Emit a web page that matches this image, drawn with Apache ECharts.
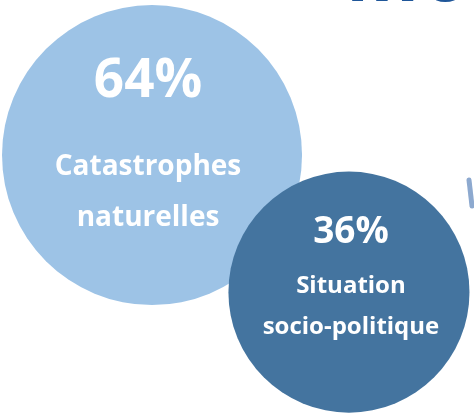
<!DOCTYPE html>
<html><head><meta charset="utf-8">
<script src="https://cdn.jsdelivr.net/npm/echarts@6/dist/echarts.min.js"></script>
<style>html,body{margin:0;padding:0;background:#fff}#c{width:474px;height:413px}</style>
</head><body><div id="c"></div>
<script>
var categories = ['Catastrophes naturelles', 'Situation socio-politique'];
var labelLines = [['Catastrophes', 'naturelles'], ['Situation', 'socio-politique']];
var values = [64, 36];
var colors = ['#9DC3E6', '#44749F'];

var chart = echarts.init(document.getElementById('c'), null, {renderer: 'canvas'});
var data = values.map(function (v, i) {
  return {
    name: categories[i],
    value: [i, v],
    itemStyle: {color: colors[i], opacity: 1},
    label: i === 0 ? {
      offset: [-4, -22],
      rich: {a: {fontSize: 53, lineHeight: 119}, b: {fontSize: 28, lineHeight: 51}}
    } : {
      offset: [2, -19],
      rich: {a: {fontSize: 37, lineHeight: 68}, b: {fontSize: 24, lineHeight: 41}}
    }
  };
});
chart.setOption({
  animation: false,
  grid: {left: 0, right: 0, top: 0, bottom: 0},
  xAxis: {type: 'value', min: -0.772, max: 1.635, show: false},
  yAxis: {type: 'value', min: 11.3, max: 95.7, show: false},
  graphic: [
    {type: 'text', x: 345, y: 18, z: 10, style: {text: 'Mo', font: 'bold 80px "Open Sans"', fill: '#1F5699', verticalAlign: 'bottom'}},
    {type: 'line', shape: {x1: 469, y1: 180, x2: 472, y2: 206}, style: {stroke: '#8DA9CF', lineWidth: 5, lineCap: 'round'}}
  ],
  series: [{
    type: 'scatter',
    symbol: 'circle',
    symbolSize: function (val) { return 300 * Math.pow(val[1] / 64, 0.38); },
    data: data,
    label: {
      show: true,
      position: 'inside',
      color: '#fff',
      fontFamily: 'Open Sans',
      fontWeight: 'bold',
      formatter: function (p) {
        var l = labelLines[p.dataIndex];
        return '{a|' + values[p.dataIndex] + '%}\n{b|' + l[0] + '}\n{b|' + l[1] + '}';
      }
    },
    emphasis: {disabled: true}
  }]
});
</script></body></html>
